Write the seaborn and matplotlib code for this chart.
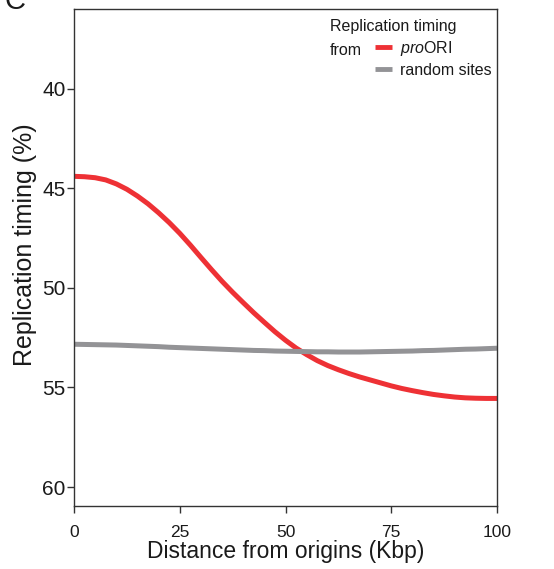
import matplotlib
matplotlib.use("Agg")
import matplotlib.pyplot as plt
from matplotlib.lines import Line2D
import seaborn as sns
import pandas as pd

distance_kbp = [0, 2.5, 5, 7.5, 10, 12.5, 15, 17.5, 20, 22.5, 25, 27.5, 30, 32.5, 35, 37.5, 40,
                42.5, 45, 47.5, 50, 52.5, 55, 57.5, 60, 62.5, 65, 67.5, 70, 72.5, 75, 77.5, 80,
                82.5, 85, 87.5, 90, 92.5, 95, 97.5, 100]
timing_proori = [44.4, 44.42, 44.47, 44.58, 44.78, 45.05, 45.39, 45.78, 46.23, 46.72, 47.26,
                 47.85, 48.47, 49.08, 49.67, 50.22, 50.74, 51.25, 51.73, 52.2, 52.63, 53.02,
                 53.35, 53.65, 53.9, 54.11, 54.3, 54.47, 54.62, 54.77, 54.92, 55.05, 55.16,
                 55.26, 55.35, 55.42, 55.48, 55.52, 55.54, 55.55, 55.55]
timing_random = [52.83, 52.84, 52.85, 52.86, 52.87, 52.89, 52.91, 52.93, 52.95, 52.98, 53.0,
                 53.02, 53.04, 53.06, 53.08, 53.1, 53.12, 53.14, 53.15, 53.17, 53.18, 53.19,
                 53.2, 53.21, 53.21, 53.22, 53.22, 53.22, 53.21, 53.2, 53.19, 53.18, 53.17,
                 53.15, 53.14, 53.12, 53.1, 53.08, 53.07, 53.05, 53.03]
series_labels = ["proORI", "random sites"]
x_ticks = [0, 25, 50, 75, 100]
y_ticks = [40, 45, 50, 55, 60]

sns.set_theme(style="white")
plt.rcParams['font.family'] = ['Liberation Sans', 'DejaVu Sans']
plt.rcParams['mathtext.fontset'] = 'custom'
plt.rcParams['mathtext.it'] = 'Liberation Sans:italic'
plt.rcParams['mathtext.rm'] = 'Liberation Sans'

df = pd.DataFrame({
    "distance": distance_kbp * 2,
    "timing": timing_proori + timing_random,
    "series": [series_labels[0]] * len(distance_kbp) + [series_labels[1]] * len(distance_kbp),
})

colors = {"proORI": "#ee3135", "random sites": "#939396"}

fig = plt.figure(figsize=(5.54, 5.69), dpi=100)
ax = fig.add_axes([74 / 554, 1 - 506 / 569, 423 / 554, 497 / 569])
sns.lineplot(data=df, x="distance", y="timing", hue="series", palette=colors,
             linewidth=3.6, ax=ax, legend=False, sort=True)
for ln in ax.lines:
    ln.set_solid_joinstyle('round')
    ln.set_solid_capstyle('butt')

ax.set_xlim(0, 100)
ax.set_ylim(60.95, 36.0)
ax.set_xticks(x_ticks)
ax.set_yticks(y_ticks)
ax.set_xticklabels([str(v) for v in x_ticks], fontsize=12.5)
ax.set_yticklabels([str(v) for v in y_ticks], fontsize=15)
ax.tick_params(axis='both', which='major', direction='out', length=5, width=1, color='#333333',
               labelcolor='#1a1a1a', bottom=True, left=True, pad=1)
ax.tick_params(axis='x', pad=9)
for s in ax.spines.values():
    s.set_visible(True)
    s.set_color('#333333')
    s.set_linewidth(1.0)

ax.set_xlabel("Distance from origins (Kbp)", fontsize=16.5, color='#1a1a1a', labelpad=0)
ax.set_ylabel("Replication timing (%)", fontsize=18, color='#1a1a1a')
ax.yaxis.set_label_coords(-0.088, 0.525)

handles = [Line2D([], [], color=colors["proORI"], lw=3.5, solid_capstyle='butt'),
           Line2D([], [], color=colors["random sites"], lw=3.5, solid_capstyle='butt')]
leg = ax.legend(handles, [r"$\it{pro}$ORI", "random sites"], loc='upper left',
                bbox_to_anchor=(0.712, 0.94), frameon=False, borderpad=0, borderaxespad=0,
                handlelength=1.05, handletextpad=0.5, labelspacing=0.3,
                prop={'size': 11.5})
for t in leg.get_texts():
    t.set_color('#1a1a1a')
ax.text(0.605, 0.964, "Replication timing", transform=ax.transAxes, ha='left', va='center',
        fontsize=11.5, color='#1a1a1a')
ax.text(0.605, 0.9175, "from", transform=ax.transAxes, ha='left', va='center',
        fontsize=11.5, color='#1a1a1a')

fig.text(5 / 554, 1 - 9 / 569, "C", fontsize=21, va='baseline', ha='left', color='#1a1a1a')

fig.savefig("out.png", dpi=100)
